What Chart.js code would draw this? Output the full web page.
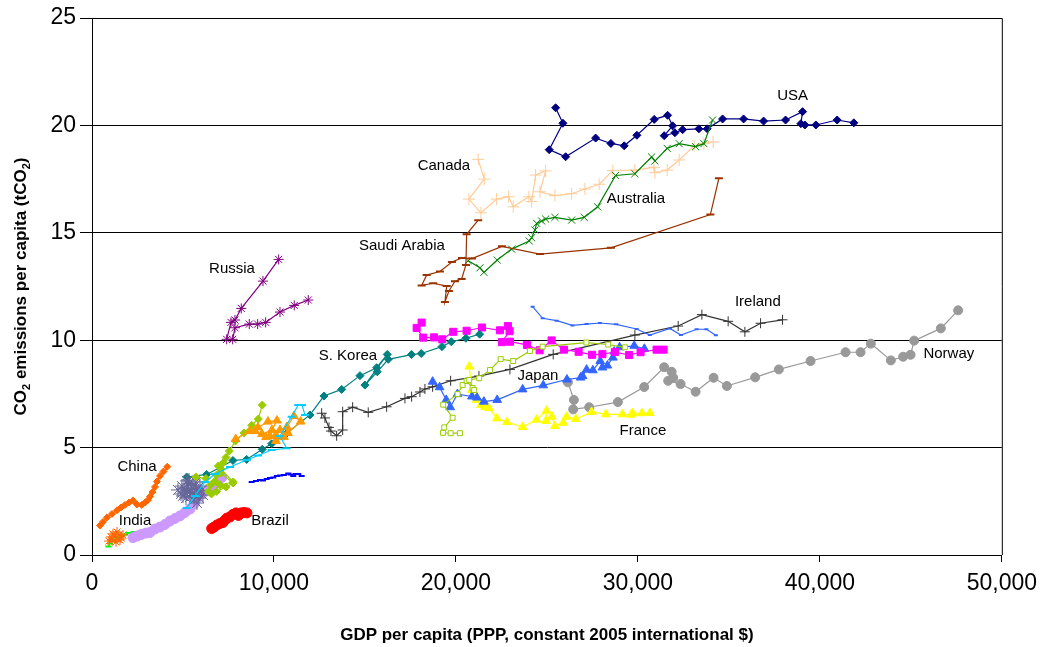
<!DOCTYPE html>
<html>
<head>
<meta charset="utf-8">
<script src="https://cdn.jsdelivr.net/npm/chart.js@4.4.1/dist/chart.umd.min.js"></script>
<style>
html,body{margin:0;padding:0;background:#fff;}
#wrap{width:1045px;height:647px;position:relative;}
</style>
</head>
<body>
<div id="wrap"><canvas id="c"></canvas></div>
<script>
// ---- tick values ----
const xTickValues = [0, 10000, 20000, 30000, 40000, 50000];
const yTickValues = [0, 5, 10, 15, 20, 25];

// ---- series (GDP per capita, CO2 per capita) ----
const usaGdp = [25478,25879,25126,26028,27676,28516,29247,29945,30896,31632,31907,31445,32033,32456,33352,33808,34654,35808,36907,38115,39050,38956,39176,39780,40951,41868];
const usaCo2 = [20.82,20.10,18.87,18.54,19.41,19.16,19.05,19.54,20.28,20.47,19.98,19.52,19.66,19.80,19.84,19.84,20.30,20.30,20.20,20.25,20.64,20.08,20.02,20.02,20.25,20.12];

const canadaGdp = [21225,21555,20714,21374,22236,22896,23148,24011,24159,24379,24929,24615,25440,26357,27088,27874,28626,29835,30879,30934,31610,32269,33093,33626,34137];
const canadaCo2 = [18.42,17.50,16.57,15.93,16.57,16.68,16.21,16.68,16.45,17.69,17.88,16.91,16.73,16.82,17.04,17.26,17.90,17.92,18.05,17.80,17.92,18.39,19.05,19.16,19.23];

const australiaGdp = [20676,21319,21538,22269,23060,24027,24159,24341,24434,24709,24929,25440,26357,27050,27786,28775,29835,30753,30934,31610,32269,33170,33626,34104];
const australiaCo2 = [13.70,13.37,13.16,13.73,14.24,14.62,14.77,15.13,15.44,15.55,15.64,15.72,15.59,15.72,16.21,17.67,17.75,18.53,18.34,18.93,19.15,19.01,19.15,20.25];

const saudiGdp = [34451,33983,28516,24615,22527,20879,20330,19780,19121,18390,18115,18753,19489,19396,19615,19945,20313,20549,20588,21225];
const saudiCo2 = [17.54,15.85,14.30,14.01,14.37,13.80,13.83,13.64,13.20,13.03,12.55,12.65,12.52,11.78,12.29,12.75,12.85,13.50,14.93,15.59];

const russiaGdp = [10258,9396,8203,7857,7637,7401,7731,7857,8643,9104,9544,10330,11115,11885];
const russiaCo2 = [13.76,12.75,11.48,10.94,10.83,10.04,10.04,10.58,10.75,10.75,10.83,11.31,11.62,11.87];

const irelandGdp = [12621,12802,13022,13132,13445,13775,13775,14324,15181,16192,17198,17566,18022,18297,18720,19709,21264,22967,25346,29835,32214,33516,34961,35879,36742,37950];
const irelandCo2 = [6.60,6.38,5.94,5.77,5.55,5.82,6.67,6.88,6.64,6.90,7.29,7.37,7.59,7.73,7.83,8.11,8.33,8.64,9.34,10.24,10.66,11.19,10.88,10.39,10.79,10.95];

const norwayGdp = [26154,26483,26445,27324,28901,30346,31445,31852,31940,31665,32346,33170,34159,34890,36445,37747,39489,41412,42236,42802,43901,44577,44984,45181,46648,47599];
const norwayCo2 = [8.04,7.22,6.78,6.88,7.12,7.82,8.74,8.53,8.25,8.11,7.96,7.60,8.25,7.87,8.27,8.64,9.03,9.44,9.44,9.84,9.06,9.23,9.32,9.98,10.55,11.39];

const franceGdp = [20731,20879,21137,21374,21593,21813,22253,22802,23665,24423,24984,24945,25275,25440,25896,26082,26593,27456,28242,29148,29632,29709,30220,30659];
const franceCo2 = [8.77,7.68,7.22,6.98,6.90,6.84,6.36,6.19,5.96,6.30,6.72,6.24,6.44,6.00,6.16,6.44,6.33,6.66,6.55,6.55,6.53,6.61,6.60,6.61];

const japanGdp = [18720,19104,19467,19687,20082,20879,21154,21538,22269,23665,24797,26099,26852,26961,27181,27527,27929,28049,28324,28626,28697,28994,29797,30357];
const japanCo2 = [8.07,7.81,7.22,6.88,7.49,7.38,7.33,7.14,7.22,7.71,7.90,8.17,8.26,8.33,8.63,8.60,9.03,8.73,8.82,9.19,9.47,9.67,9.74,9.60];

const blueLineGdp = [24214,24764,25533,26401,27181,27912,28808,29928,30659,31758,32363,33225,33764,34286];
const blueLineCo2 = [11.56,11.02,10.91,10.69,10.75,10.80,10.74,10.52,10.24,10.55,10.24,10.51,10.51,10.23];

const magentaGdp = [18115,17841,18203,18791,19247,19852,20588,21429,22418,22857,22950,22527,22967,23901,24599,25258,25934,26742,27484,28049,28736,29516,30148,31027,31412];
const magentaCo2 = [10.82,10.57,10.12,10.13,10.04,10.39,10.44,10.59,10.46,10.66,10.42,9.91,9.93,9.78,9.53,9.99,9.56,9.46,9.32,9.35,9.45,9.31,9.44,9.56,9.56];

const limeSquareGdp = [20220,19709,19286,19357,19818,19302,20093,20368,20588,20917,21005,20731,21280,21868,22456,23148,24066,24764,27170,28368,29286];
const limeSquareCo2 = [5.67,5.67,5.69,5.94,6.39,7.00,7.49,7.91,8.10,7.77,7.68,8.15,8.23,8.61,9.12,9.03,9.50,9.70,9.89,9.80,9.67];

const koreaGdp = [5203,6302,7747,8500,9357,9874,10698,11978,12747,13720,14725,15643,16225,15000,15676,16280,17555,18093,19231,19742,20549,21302];
const koreaCo2 = [3.63,3.75,4.40,4.45,4.92,5.18,5.67,6.52,7.40,7.71,8.35,8.72,9.34,7.91,8.53,9.11,9.33,9.38,9.70,9.93,10.09,10.28];

const chinaGdp = [440,604,824,1099,1374,1593,1813,2033,2253,2473,2731,2912,3077,3187,3324,3462,3571,3736,3929,4137];
const chinaCo2 = [1.37,1.54,1.75,1.91,2.08,2.21,2.33,2.44,2.54,2.35,2.33,2.44,2.56,2.72,2.93,3.17,3.42,3.68,3.89,4.11];

const indiaGdp = [896,989,1099,1264,1429,1621,1813,2033,2280];
const indiaCo2 = [0.40,0.54,0.65,0.72,0.81,0.88,0.95,1.02,1.07];

const orangeStarGdp = [934,1044,1154,1264,1374,1484,1593,1703,1538,1319,1099];
const orangeStarCo2 = [0.65,0.84,0.98,0.88,1.07,0.93,0.79,0.93,0.70,0.61,0.70];

const lavenderGdp = [2253,2473,2692,2967,3187,3462,3736,4011,4286,4560,4835,5110,5385,5604,5824,6099,6374,6648,6923,7126];
const lavenderCo2 = [0.81,0.88,0.95,1.02,1.05,1.21,1.30,1.42,1.58,1.70,1.82,1.98,2.14,2.37,2.68,2.89,3.05,3.21,3.40,3.61];

const slateStarGdp = [4725,4945,5110,5275,5385,5549,5714,5604,5824,5934,5165,4890,5330,6099,5769,5055,5494,5879,5000,5440,5660,6000,5220];
const slateStarCo2 = [3.03,3.21,2.89,3.31,2.70,3.12,3.40,2.56,2.93,3.21,2.65,2.84,3.49,2.79,2.42,3.12,2.89,2.65,2.75,3.05,3.25,3.00,3.45];

const brazilGdp = [6577,6703,6868,7033,7198,7308,7418,7582,7747,7912,8049,8187,8352,8516];
const brazilCo2 = [1.23,1.30,1.40,1.47,1.51,1.63,1.72,1.77,1.89,1.96,1.84,1.96,1.98,1.96];

const blueDashGdp = [8775,9011,9231,9396,9599,9780,9961,10165,10330,10549,10786,10934,11060,11209,11335,11522];
const blueDashCo2 = [3.40,3.44,3.49,3.47,3.54,3.58,3.61,3.68,3.70,3.72,3.79,3.75,3.68,3.77,3.77,3.68];

const limeDiamondGdp = [5714,6264,6511,6758,6841,6940,7088,7764,7033,6566,6401,6852,7363,7747,7088,7214,7363,7544,7885,8352,8775,9137,9357];
const limeDiamondCo2 = [3.63,3.56,3.26,3.44,3.72,4.14,4.00,3.40,3.26,2.84,2.96,2.96,3.17,3.35,3.82,4.30,4.54,4.84,5.31,5.68,6.04,6.33,6.98];

const orangeTriGdp = [7896,8681,9121,9670,10165,9890,9341,8956,9560,10110,10549,10330,10714,11099,11467,10769,10110,9780];
const orangeTriCo2 = [5.40,5.77,5.94,6.21,6.26,5.82,5.63,5.77,5.49,5.59,5.49,5.82,5.96,6.47,6.21,5.68,5.31,5.54];

const cyanGdp = [5203,5659,6209,6758,7582,8500,9121,9874,10698,10330,10973,11335,11538,11703];
const cyanCo2 = [2.19,2.75,3.40,3.77,4.10,4.42,4.63,4.89,4.97,5.54,6.44,6.98,6.98,6.52];

// ---- country labels (text, GDP, CO2 anchor) ----
const labelTexts = ["USA","Canada","Australia","Saudi Arabia","Russia","Ireland","S. Korea","Norway","Japan","France","China","India","Brazil"];
const labelGdp = [38500,19341,29890,17033,7692,36593,14066,47088,24505,30275,2473,2363,9780];
const labelCo2 = [21.37,18.11,16.57,14.38,13.31,11.78,9.26,9.36,8.33,5.77,4.10,1.58,1.58];

function pts(xs, ys){ return xs.map((x,i)=>({x:x, y:ys[i]})); }

function ds(xs, ys, color, style, radius, opts){
  return Object.assign({
    data: pts(xs, ys),
    showLine: true,
    borderColor: color,
    backgroundColor: color,
    borderWidth: 1.2,
    pointStyle: style,
    pointRadius: radius,
    pointHoverRadius: radius,
    pointBorderColor: color,
    pointBackgroundColor: color,
    pointBorderWidth: 1,
    tension: 0
  }, opts || {});
}

const datasets = [
  ds(usaGdp, usaCo2, '#000080', 'rectRot', 4),
  ds(canadaGdp, canadaCo2, '#FFCC99', 'cross', 6),
  ds(australiaGdp, australiaCo2, '#008000', 'crossRot', 5),
  ds(saudiGdp, saudiCo2, '#993300', 'line', 4, {pointBorderWidth: 2}),
  ds(russiaGdp, russiaCo2, '#800080', 'star', 5),
  ds(irelandGdp, irelandCo2, '#333333', 'cross', 5),
  ds(norwayGdp, norwayCo2, '#999999', 'circle', 4.5),
  ds(franceGdp, franceCo2, '#FFFF00', 'triangle', 5),
  ds(japanGdp, japanCo2, '#3366FF', 'triangle', 5),
  ds(blueLineGdp, blueLineCo2, '#3366FF', 'line', 2, {pointBorderWidth: 2}),
  ds(magentaGdp, magentaCo2, '#FF00FF', 'rect', 5),
  ds(limeSquareGdp, limeSquareCo2, '#99CC00', 'rect', 3.5, {pointBackgroundColor: '#ffffff'}),
  ds(koreaGdp, koreaCo2, '#008080', 'rectRot', 4),
  ds(chinaGdp, chinaCo2, '#FF6600', 'rectRot', 3.5),
  ds(indiaGdp, indiaCo2, '#00FF00', 'line', 3, {pointBorderWidth: 2}),
  ds(orangeStarGdp, orangeStarCo2, '#FF6600', 'star', 5),
  ds(lavenderGdp, lavenderCo2, '#CC99FF', 'circle', 5),
  ds(slateStarGdp, slateStarCo2, '#666699', 'star', 7),
  ds(brazilGdp, brazilCo2, '#FF0000', 'circle', 5),
  ds(blueDashGdp, blueDashCo2, '#0000FF', 'line', 3, {pointBorderWidth: 2}),
  ds(limeDiamondGdp, limeDiamondCo2, '#99CC00', 'rectRot', 4),
  ds(orangeTriGdp, orangeTriCo2, '#FF9900', 'triangle', 5),
  ds(cyanGdp, cyanCo2, '#00CCFF', 'line', 4, {pointBorderWidth: 2})
];
// later series drawn on top, as in the reference
datasets.forEach((d,i)=>{ d.order = -i; });

const FONT = "'Liberation Sans', Arial, sans-serif";

const framePlugin = {
  id: 'frame',
  afterDraw(chart){
    const a = chart.chartArea, ctx = chart.ctx;
    ctx.save();
    ctx.strokeStyle = '#000';
    ctx.lineWidth = 1;
    ctx.beginPath();
    ctx.moveTo(a.left, a.top + 0.5);
    ctx.lineTo(a.right + 0.5, a.top + 0.5);
    ctx.lineTo(a.right + 0.5, a.bottom);
    ctx.stroke();
    ctx.restore();
  }
};

const labelPlugin = {
  id: 'countryLabels',
  afterDatasetsDraw(chart){
    const ctx = chart.ctx, xs = chart.scales.x, ys = chart.scales.y;
    ctx.save();
    ctx.font = "15px " + FONT;
    ctx.fillStyle = '#000';
    ctx.textAlign = 'center';
    ctx.textBaseline = 'middle';
    labelTexts.forEach((t,i)=>{
      ctx.fillText(t, xs.getPixelForValue(labelGdp[i]), ys.getPixelForValue(labelCo2[i]));
    });
    ctx.restore();
  }
};

const titlePlugin = {
  id: 'axisTitles',
  afterDraw(chart){
    const ctx = chart.ctx, a = chart.chartArea;
    ctx.save();
    ctx.fillStyle = '#000';
    ctx.textBaseline = 'alphabetic';
    ctx.font = "bold 17px " + FONT;
    ctx.textAlign = 'center';
    ctx.fillText('GDP per capita (PPP, constant 2005 international $)', (a.left + a.right)/2, 640);
    const parts = [['CO',false],['2',true],[' emissions per capita (tCO',false],['2',true],[')',false]];
    const big = "bold 17px " + FONT, small = "bold 11px " + FONT;
    let total = 0;
    parts.forEach(p=>{ ctx.font = p[1]?small:big; total += ctx.measureText(p[0]).width; });
    ctx.translate(26, (a.top + a.bottom)/2);
    ctx.rotate(-Math.PI/2);
    let x = -total/2;
    ctx.textAlign = 'left';
    parts.forEach(p=>{
      ctx.font = p[1]?small:big;
      ctx.fillText(p[0], x, p[1]?4:0);
      x += ctx.measureText(p[0]).width;
    });
    ctx.restore();
  }
};

new Chart(document.getElementById('c'), {
  type: 'scatter',
  data: { datasets: datasets },
  options: {
    responsive: true,
    maintainAspectRatio: false,
    animation: false,
    events: [],
    layout: { padding: { left: 0, top: 18, right: 43, bottom: 0 } },
    plugins: { legend: { display: false }, tooltip: { enabled: false } },
    scales: {
      x: {
        type: 'linear',
        min: 0, max: 50000,
        afterFit(s){ s.height = 92; },
        afterBuildTicks(s){ s.ticks = xTickValues.map(v=>({value:v})); },
        grid: { drawOnChartArea: false, drawTicks: true, tickLength: 7, color: '#000' },
        border: { color: '#000', width: 1 },
        ticks: {
          color: '#000',
          padding: 8,
          maxRotation: 0,
          font: { family: FONT, size: 23 },
          callback: v => v.toLocaleString('en-US')
        }
      },
      y: {
        type: 'linear',
        min: 0, max: 25,
        afterFit(s){ s.width = 92; },
        afterBuildTicks(s){ s.ticks = yTickValues.map(v=>({value:v})); },
        grid: { drawOnChartArea: true, drawTicks: true, tickLength: 12, color: '#000', lineWidth: 1 },
        border: { color: '#000', width: 1 },
        ticks: {
          color: '#000',
          padding: 4,
          font: { family: FONT, size: 23 },
          callback: v => String(v)
        }
      }
    }
  },
  plugins: [framePlugin, labelPlugin, titlePlugin]
});
</script>
</body>
</html>
